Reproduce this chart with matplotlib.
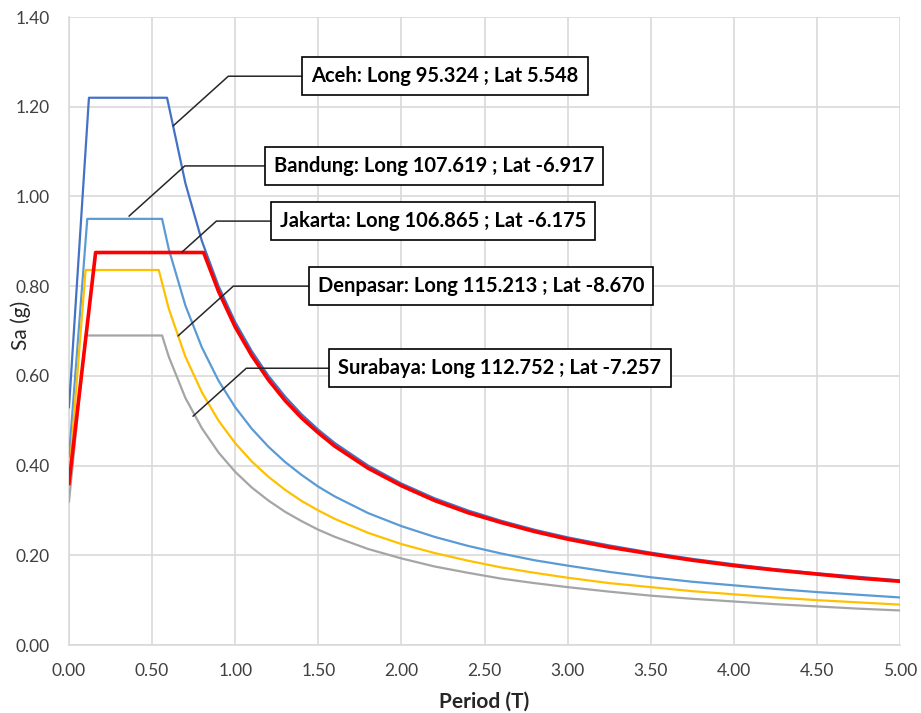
import matplotlib
matplotlib.use("Agg")
import matplotlib.pyplot as plt
from matplotlib.ticker import FormatStrFormatter, MultipleLocator

# descending branch periods shared by the curves
T_TAIL = [1.0, 1.1, 1.2, 1.3, 1.4, 1.5, 1.6, 1.8, 2.0, 2.2, 2.4, 2.6, 2.8,
          3.0, 3.25, 3.5, 3.75, 4.0, 4.25, 4.5, 4.75, 5.0]

aceh_T = [0.0, 0.12, 0.59, 0.7, 0.8, 0.9] + T_TAIL
aceh_sa = [0.53, 1.22, 1.22, 1.03, 0.90, 0.80,
           0.72, 0.655, 0.60, 0.554, 0.514, 0.48, 0.45, 0.40, 0.36, 0.327, 0.30, 0.277, 0.257,
           0.24, 0.222, 0.206, 0.192, 0.18, 0.169, 0.16, 0.152, 0.144]

bandung_T = [0.0, 0.11, 0.56, 0.6, 0.7, 0.8, 0.9] + T_TAIL
bandung_sa = [0.42, 0.95, 0.95, 0.883, 0.757, 0.663, 0.589,
              0.53, 0.482, 0.442, 0.408, 0.379, 0.353, 0.331, 0.294, 0.265, 0.241, 0.221, 0.204, 0.189,
              0.177, 0.163, 0.151, 0.141, 0.133, 0.125, 0.118, 0.112, 0.106]

jakarta_T = [0.0, 0.16, 0.81, 0.9] + T_TAIL
jakarta_sa = [0.36, 0.875, 0.875, 0.788,
              0.709, 0.645, 0.591, 0.545, 0.506, 0.473, 0.443, 0.394, 0.355, 0.322, 0.295, 0.273, 0.253,
              0.236, 0.218, 0.203, 0.189, 0.177, 0.167, 0.158, 0.149, 0.142]

denpasar_T = [0.0, 0.10, 0.54, 0.6, 0.7, 0.8, 0.9] + T_TAIL
denpasar_sa = [0.37, 0.836, 0.836, 0.75, 0.643, 0.563, 0.50,
               0.45, 0.409, 0.375, 0.346, 0.321, 0.30, 0.281, 0.25, 0.225, 0.205, 0.188, 0.173, 0.161,
               0.15, 0.138, 0.129, 0.12, 0.113, 0.106, 0.10, 0.095, 0.09]

surabaya_T = [0.0, 0.10, 0.56, 0.6, 0.7, 0.8, 0.9] + T_TAIL
surabaya_sa = [0.32, 0.69, 0.69, 0.643, 0.551, 0.483, 0.429,
               0.386, 0.351, 0.322, 0.297, 0.276, 0.257, 0.241, 0.214, 0.193, 0.175, 0.161, 0.148, 0.138,
               0.129, 0.119, 0.110, 0.103, 0.097, 0.091, 0.086, 0.081, 0.077]

labels = [
    "Aceh: Long 95.324 ; Lat 5.548",
    "Bandung: Long 107.619 ; Lat -6.917",
    "Jakarta: Long 106.865 ; Lat -6.175",
    "Denpasar: Long 115.213 ; Lat -8.670",
    "Surabaya: Long 112.752 ; Lat -7.257",
]

fig = plt.figure(figsize=(9.21, 7.13), dpi=100)
ax = fig.add_axes([69 / 921, 1 - 645 / 713, (900 - 69) / 921, (645 - 17) / 713])

ax.plot(aceh_T, aceh_sa, color="#4472C4", lw=1.6, zorder=3)
ax.plot(bandung_T, bandung_sa, color="#5B9BD5", lw=1.6, zorder=3)
ax.plot(denpasar_T, denpasar_sa, color="#FFC000", lw=1.6, zorder=3)
ax.plot(surabaya_T, surabaya_sa, color="#A5A5A5", lw=1.6, zorder=3)
ax.plot(jakarta_T, jakarta_sa, color="#FF0000", lw=2.6, zorder=4)

ax.set_xlim(0, 5)
ax.set_ylim(0, 1.4)
ax.xaxis.set_major_locator(MultipleLocator(0.5))
ax.yaxis.set_major_locator(MultipleLocator(0.2))
ax.xaxis.set_major_formatter(FormatStrFormatter("%.2f"))
ax.yaxis.set_major_formatter(FormatStrFormatter("%.2f"))
ax.grid(True, color="#D9D9D9", lw=1.2, zorder=0)
ax.set_axisbelow(True)
for side in ["top", "right"]:
    ax.spines[side].set_visible(False)
for side in ["left", "bottom"]:
    ax.spines[side].set_color("#D9D9D9")
    ax.spines[side].set_linewidth(1.2)
ax.tick_params(length=0, labelsize=12.5, labelcolor="#404040")
ax.tick_params(axis="x", pad=13)
ax.tick_params(axis="y", pad=14)
for lbl in ax.get_xticklabels() + ax.get_yticklabels():
    lbl.set_fontfamily("Lato")

ax.set_xlabel("Period (T)", fontsize=15, fontweight="bold", fontfamily="Lato", color="#262626")
ax.xaxis.set_label_coords(0.5, -(702 - 645) / 628, transform=ax.transAxes)
ax.xaxis.label.set_va("center")
ax.set_ylabel("Sa (g)", fontsize=15, fontfamily="Lato", color="#262626")
ax.yaxis.set_label_coords(-(69 - 21) / 831, (645 - 325) / 628, transform=ax.transAxes)
ax.yaxis.label.set_va("center")

# callouts: (point on curve, box centre)
callouts = [
    ((0.626, 1.157), (2.262, 1.268)),
    ((0.361, 0.956), (2.196, 1.068)),
    ((0.680, 0.876), (2.190, 0.945)),
    ((0.656, 0.689), (2.479, 0.800)),
    ((0.746, 0.510), (2.593, 0.617)),
]
for text, (pt, box) in zip(labels, callouts):
    ax.annotate(text, xy=pt, xytext=box, ha="center", va="center",
                fontsize=14.5, fontweight="bold", fontfamily="Lato", color="black",
                bbox=dict(boxstyle="square,pad=0.45", fc="white", ec="black", lw=1.2),
                arrowprops=dict(arrowstyle="-", color="#262626", lw=1.1,
                                connectionstyle="angle,angleA=0,angleB=42,rad=0",
                                shrinkA=0, shrinkB=0),
                zorder=5)

fig.savefig("out.png", dpi=100)
